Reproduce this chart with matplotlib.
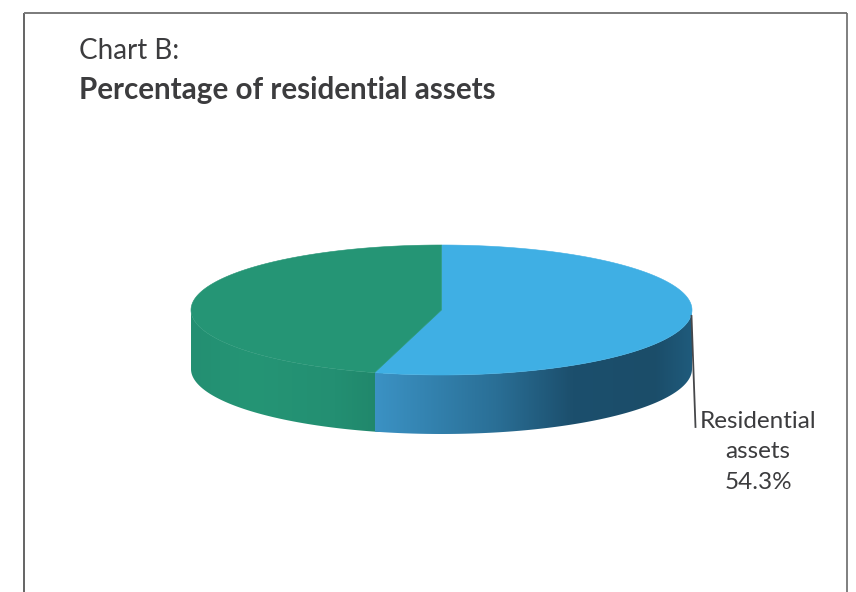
import numpy as np
import matplotlib
matplotlib.use("Agg")
import matplotlib.pyplot as plt
from matplotlib.path import Path
from matplotlib.patches import PathPatch
from matplotlib.colors import LinearSegmentedColormap

categories = ["Residential assets", "Other assets"]
shares = [54.3, 45.7]
top_colors = ["#3fafe4", "#259575"]
title_light = "Chart B:"
title_bold = "Percentage of residential assets"
label_lines = "Residential\nassets\n54.3%"

W, H = 856, 592
cx, cy, rx, ry, depth = 441.5, 310.0, 250.5, 65.0, 59.0
text_color = "#3c3c3e"

fig = plt.figure(figsize=(W / 100, H / 100), dpi=100)
ax = fig.add_axes([0, 0, 1, 1])
ax.set_xlim(0, W)
ax.set_ylim(H, 0)
ax.axis("off")


def pt(deg, dy=0.0):
    a = np.radians(np.asarray(deg, dtype=float))
    return cx + rx * np.sin(a), cy - ry * np.cos(a) + dy


def poly_patch(xs, ys, **kw):
    v = np.column_stack([xs, ys])
    v = np.vstack([v, v[0]])
    codes = [Path.MOVETO] + [Path.LINETO] * (len(v) - 2) + [Path.CLOSEPOLY]
    return PathPatch(Path(v, codes), **kw)


split = shares[0] / sum(shares) * 360

# side walls: green first, running slightly under the blue so no seam shows
side_stops = [
    ((split - 2, 270), [(0.0, "#20866a"), (0.25, "#238f72"), (0.70, "#259575"),
                        (1.0, "#238f72")]),
    ((90, split), [(0.0, "#1f5b7c"), (0.12, "#1b4d69"), (0.38, "#1c4f6d"),
                   (0.62, "#2a6f96"), (1.0, "#3b92c4")]),
]
for (a0, a1), stops in side_stops:
    deg = np.linspace(a0, a1, 200)
    x, y = pt(deg)
    xs = np.r_[x, x[::-1]]
    ys = np.r_[y, y[::-1] + depth]
    clip = poly_patch(xs, ys, facecolor="none", edgecolor="none")
    ax.add_patch(clip)
    cmap = LinearSegmentedColormap.from_list("s", stops)
    grad = np.linspace(0, 1, 256).reshape(1, -1)
    # stops run from first angle to last angle, i.e. right to left on screen
    im = ax.imshow(grad[:, ::-1], cmap=cmap, aspect="auto", interpolation="bilinear",
                   extent=[xs.min(), xs.max(), ys.max(), ys.min()], vmin=0, vmax=1)
    im.set_clip_path(clip)
ax.set_xlim(0, W)
ax.set_ylim(H, 0)

# top face
starts = np.r_[0, np.cumsum(shares)[:-1]] / sum(shares) * 360
for s, v, c in zip(starts, shares, top_colors):
    deg = np.linspace(s, s + v / sum(shares) * 360, 300)
    x, y = pt(deg)
    ax.add_patch(poly_patch(np.r_[cx, x], np.r_[cy, y], facecolor=c, edgecolor=c, linewidth=0.4))

# frame
ax.plot([24.5, 24.5], [H, 12.5], color="#4a4a4a", lw=1.2, solid_capstyle="butt")
ax.plot([24.5, 847.5], [12.5, 12.5], color="#7a7a7a", lw=1.4, solid_capstyle="butt")
ax.plot([847.5, 847.5], [12.5, H], color="#6a6a6a", lw=1.2, solid_capstyle="butt")

# leader
ax.plot([691.5, 695.5], [316, 427], color="#46474a", lw=1.3)

ax.text(79, 51, title_light, family="Lato", fontsize=20, color=text_color, va="center", ha="left")
ax.text(79, 90, title_bold, family="Lato", fontsize=21.3, color=text_color, va="center", ha="left", fontweight="bold")
ax.text(758, 452, label_lines, family="Lato", fontsize=17.5, color=text_color, va="center", ha="center",
        linespacing=1.58)

fig.savefig("out.png", dpi=100)
